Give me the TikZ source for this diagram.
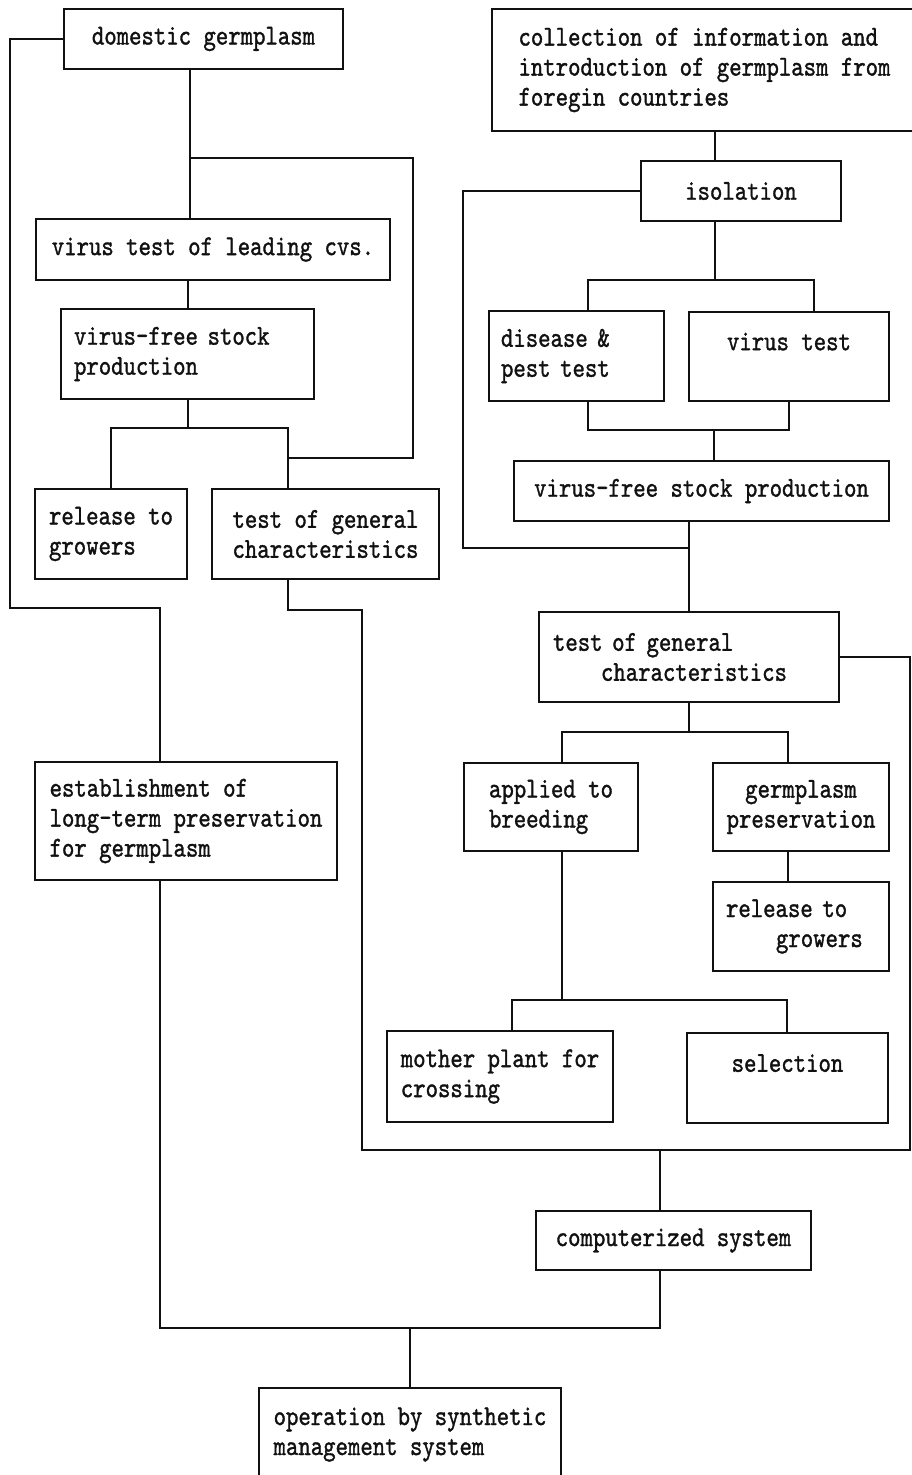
\documentclass[tikz,border=0pt]{standalone}
\usepackage{fontspec}
\setmonofont{lmmono10-regular.otf}[FakeStretch=0.82, FakeBold=1.2]
\usetikzlibrary{positioning}
\definecolor{Ink}{HTML}{111111}

\begin{document}
\begin{tikzpicture}[x=1pt, y=-1pt,
    stage/.style={draw=Ink, line width=2pt, text=Ink, inner sep=0pt,
                  font=\ttfamily\fontsize{28.8}{30}\selectfont, align=left,
                  anchor=north west},
    link/.style={draw=Ink, line width=2pt}
  ]
  \useasboundingbox (0,0) rectangle (912,1475);
  \node[stage, minimum width=279pt, minimum height=60pt] (dom) at (63,8) {domestic germplasm};
  \node[stage, minimum width=425pt, minimum height=122pt] (coll) at (491,8) {collection of information and\\introduction of germplasm from\\foregin countries};
  \node[stage, minimum width=200pt, minimum height=60pt, align=center] (iso) at (640,160) {isolation};
  \node[stage, minimum width=354pt, minimum height=61pt] (vtl) at (35,218) {virus test of leading cvs.};
  \node[stage, minimum width=253pt, minimum height=90pt, text width=227pt] (vfL) at (60,308) {virus-free stock\\production};
  \node[stage, minimum width=152pt, minimum height=90pt] (relL) at (34,488) {release to\\growers};
  \node[stage, minimum width=227pt, minimum height=90pt] (tgL) at (211,488) {test of general\\characteristics};
  \node[stage, minimum width=175pt, minimum height=90pt, text width=151pt] (dis) at (488,310) {disease \&\\pest test};
  \node[stage, minimum width=200pt, minimum height=89pt, align=center] (vt) at (688,311) {virus test\\~};
  \node[stage, minimum width=375pt, minimum height=60pt] (vfR) at (513,460) {virus-free stock production};
  \node[stage, minimum width=300pt, minimum height=90pt, text width=272pt] (tgR) at (538,611) {test of general\\\hspace*{48pt}characteristics};
  \node[stage, minimum width=302pt, minimum height=118pt] (est) at (34,761) {establishment of\\long-term preservation\\for germplasm};
  \node[stage, minimum width=174pt, minimum height=88pt] (app) at (463,762) {applied to\\breeding};
  \node[stage, minimum width=176pt, minimum height=88pt, align=center] (gp) at (712,762) {germplasm\\preservation};
  \node[stage, minimum width=176pt, minimum height=89pt, text width=150pt] (relR) at (712,881) {release to\\\hspace*{50pt}growers};
  \node[stage, minimum width=226pt, minimum height=91pt] (moth) at (386,1030) {mother plant for\\crossing};
  \node[stage, minimum width=201pt, minimum height=90pt, align=center] (sel) at (686,1032) {selection\\~};
  \node[stage, minimum width=275pt, minimum height=59pt] (comp) at (535,1210) {computerized system};
  \node[stage, minimum width=302pt, minimum height=93pt] (op) at (258,1387) {operation by synthetic\\management system};

  \coordinate (j1) at (190,158);
  \coordinate (j2) at (413,458);
  \coordinate (j3) at (288,428);
  \coordinate (j4) at (10,608);
  \coordinate (j5) at (160,608);
  \coordinate (k1) at (288,610);
  \coordinate (k2) at (362,1150);
  \coordinate (k3) at (910,1150);
  \coordinate (k4) at (660,1150);
  \coordinate (k5) at (160,1328);
  \coordinate (k6) at (410,1328);
  \coordinate (m1) at (715,280);
  \coordinate (m2) at (588,280);
  \coordinate (m3) at (814,280);
  \coordinate (m4) at (714,430);
  \coordinate (m5) at (463,548);
  \coordinate (m6) at (562,732);
  \coordinate (m7) at (788,732);
  \coordinate (m8) at (562,1000);
  \coordinate (m9) at (512,1000);
  \coordinate (m10) at (787,1000);

  \draw[link] (j1 |- dom.south) -- (j1 |- vtl.north);
  \draw[link] (j1) -| (j2) -- (j3 |- j2);
  \draw[link] (vfL.north |- vtl.south) -- (vfL.north);
  \draw[link] (vfL.south) -- (vfL.south |- j3);
  \draw[link] (relL.north) |- (j3) -- (j3 |- tgL.north);
  \draw[link] (dom.west) -| (j4) -- (j5) -- (j5 |- est.north);
  \draw[link] (k1 |- tgL.south) -- (k1) -| (k2) -- (k3) |- (tgR.east);
  \draw[link] (k4) -- (k4 |- comp.north);
  \draw[link] (k4 |- comp.south) |- (k5) -- (k5 |- est.south);
  \draw[link] (k6) -- (op.north);
  \draw[link] (m1 |- coll.south) -- (m1 |- iso.north);
  \draw[link] (m1 |- iso.south) -- (m1);
  \draw[link] (m2 |- dis.north) -- (m2) -- (m3) -- (m3 |- vt.north);
  \draw[link] (m2 |- dis.south) |- (vt.south |- m4) -- (vt.south);
  \draw[link] (m4) -- (m4 |- vfR.north);
  \draw[link] (iso.west) -| (m5) -- (m5 -| tgR.north);
  \draw[link] (tgR.north |- vfR.south) -- (tgR.north);
  \draw[link] (tgR.south) -- (tgR.south |- m6);
  \draw[link] (m6 |- app.north) -- (m6) -- (m7) -- (m7 |- gp.north);
  \draw[link] (m7 |- gp.south) -- (m7 |- relR.north);
  \draw[link] (m6 |- app.south) -- (m8);
  \draw[link] (m9 |- moth.north) -- (m9) -- (m10) -- (m10 |- sel.north);
\end{tikzpicture}
\end{document}
